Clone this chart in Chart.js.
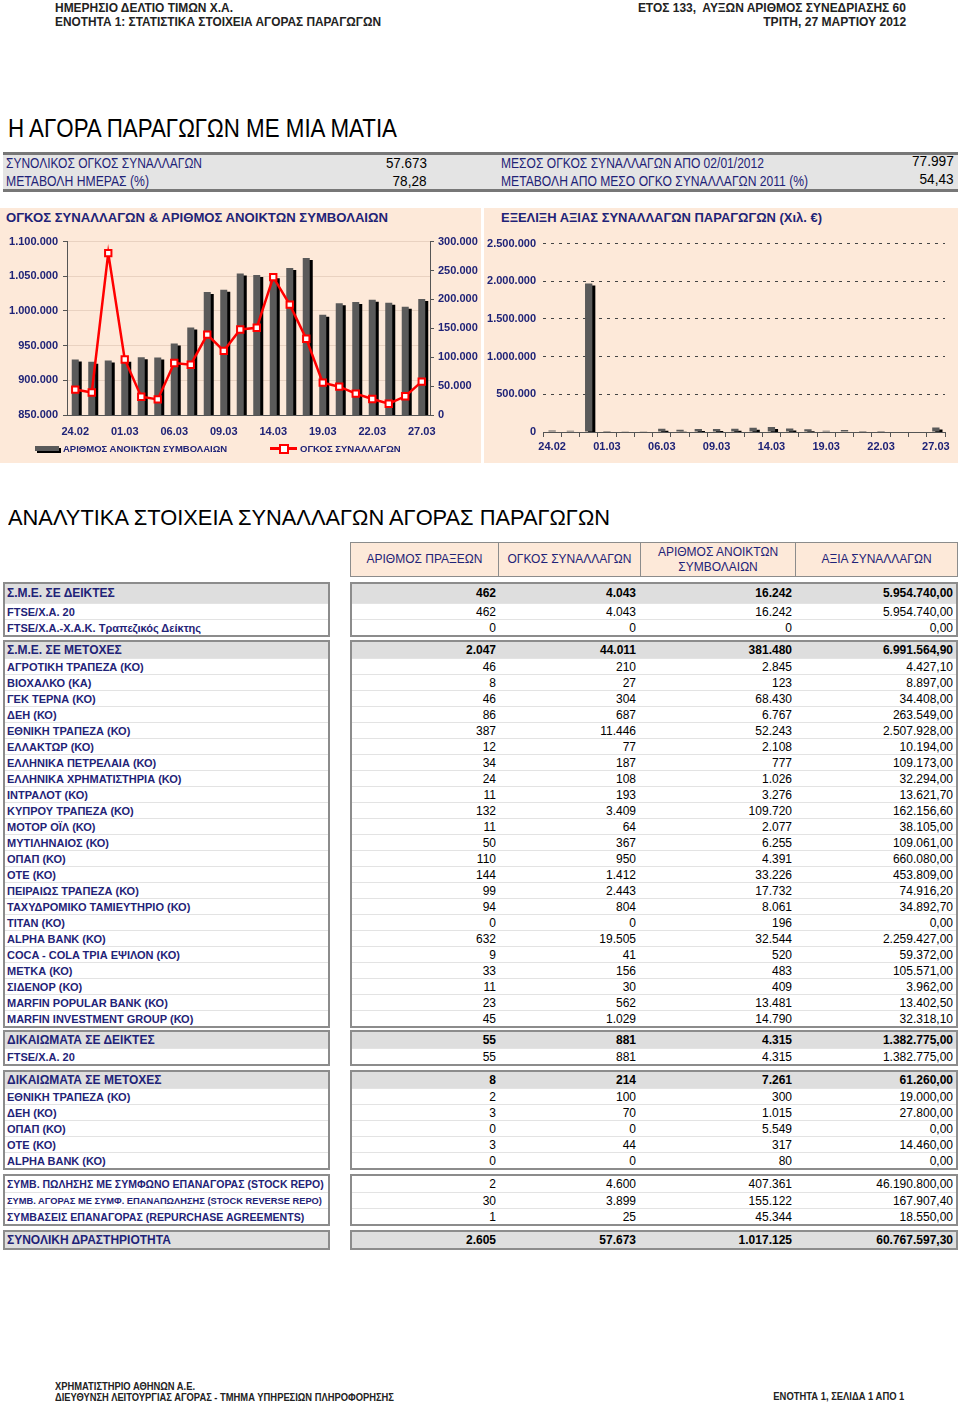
<!DOCTYPE html>
<html>
<head>
<meta charset="utf-8">
<script src="https://cdn.jsdelivr.net/npm/chart.js"></script>
<style>
  body { margin: 0; background: #fff; font-family: "Liberation Sans", Arial, sans-serif; }
  #page { position: relative; width: 960px; height: 1405px; overflow: hidden; }
  .abs { position: absolute; white-space: nowrap; }
  .fit { transform-origin: left center; }
  .fit.r { transform-origin: right center; }
  .navy { color: #1f2377; }
  .panel { position: absolute; background: #fde9d9; }
  .box { position: absolute; border: 2px solid #8c8c8c; background: #fff; }
  .row { position: relative; height: 16px; line-height: 16px; border-top: 1px solid #e3e3e3; box-sizing: border-box; }
  .row.first { border-top: none; }
  .row.head { background: #dedede; }
  .lbl { padding-left: 2px; font-weight: bold; font-size: 11px; color: #1f2377; white-space: nowrap; overflow: hidden; }
  .lbl.head { font-size: 12px; }
  .num { position: absolute; top: 0; text-align: right; font-size: 12px; color: #000; }
  .head .num { font-weight: bold; }
  .colhead { position: absolute; top: 542px; height: 35px; display: flex; align-items: center; justify-content: center; text-align: center; font-size: 12px; color: #1f2377; background: #fde9d9; border: 1px solid #8c8c8c; box-sizing: border-box; line-height: 15px; }
</style>
</head>
<body>
<div id="page">
  <div class="abs fit" data-w="178" style="left:55px;top:0px;font-size:13px;font-weight:bold;color:#222;">ΗΜΕΡΗΣΙΟ ΔΕΛΤΙΟ ΤΙΜΩΝ Χ.Α.</div>
  <div class="abs fit" data-w="326" style="left:55px;top:14px;font-size:13px;font-weight:bold;color:#222;">ΕΝΟΤΗΤΑ 1: ΣΤΑΤΙΣΤΙΚΑ ΣΤΟΙΧΕΙΑ ΑΓΟΡΑΣ ΠΑΡΑΓΩΓΩΝ</div>
  <div class="abs fit r" data-w="268" style="right:54px;top:0px;font-size:13px;font-weight:bold;color:#222;">ΕΤΟΣ 133,&nbsp; ΑΥΞΩΝ ΑΡΙΘΜΟΣ ΣΥΝΕΔΡΙΑΣΗΣ 60</div>
  <div class="abs fit r" data-w="143" style="right:54px;top:14px;font-size:13px;font-weight:bold;color:#222;">ΤΡΙΤΗ, 27 ΜΑΡΤΙΟΥ 2012</div>

  <div class="abs fit" data-w="389" style="left:8px;top:113px;font-size:26px;color:#000;">Η ΑΓΟΡΑ ΠΑΡΑΓΩΓΩΝ ΜΕ ΜΙΑ ΜΑΤΙΑ</div>

  <div class="abs" style="left:3px;top:152px;width:955px;height:34px;background:#e4e4e4;border-top:3px solid #777;border-bottom:3px solid #777;"></div>
  <div class="abs fit navy" data-w="196" style="left:6px;top:155px;font-size:14px;">ΣΥΝΟΛΙΚΟΣ ΟΓΚΟΣ ΣΥΝΑΛΛΑΓΩΝ</div>
  <div class="abs fit navy" data-w="143" style="left:6px;top:173px;font-size:14px;">ΜΕΤΑΒΟΛΗ ΗΜΕΡΑΣ (%)</div>
  <div class="abs fit r" data-w="41" style="right:533px;top:154px;font-size:15px;">57.673</div>
  <div class="abs fit r" data-w="34" style="right:533px;top:172px;font-size:15px;">78,28</div>
  <div class="abs fit navy" data-w="263" style="left:501px;top:155px;font-size:14px;">ΜΕΣΟΣ ΟΓΚΟΣ ΣΥΝΑΛΛΑΓΩΝ ΑΠΟ 02/01/2012</div>
  <div class="abs fit navy" data-w="307" style="left:501px;top:173px;font-size:14px;">ΜΕΤΑΒΟΛΗ ΑΠΟ ΜΕΣΟ ΟΓΚΟ ΣΥΝΑΛΛΑΓΩΝ 2011 (%)</div>
  <div class="abs fit r" data-w="42" style="right:6px;top:152px;font-size:15px;">77.997</div>
  <div class="abs fit r" data-w="34" style="right:6px;top:170px;font-size:15px;">54,43</div>

  <div class="panel" style="left:0;top:208px;width:481px;height:255px;"></div>
  <div class="panel" style="left:484px;top:208px;width:474px;height:255px;"></div>
  <div class="abs fit navy" data-w="382" style="left:6px;top:210px;font-size:13px;font-weight:bold;">ΟΓΚΟΣ ΣΥΝΑΛΛΑΓΩΝ &amp; ΑΡΙΘΜΟΣ ΑΝΟΙΚΤΩΝ ΣΥΜΒΟΛΑΙΩΝ</div>
  <div class="abs fit navy" data-w="321" style="left:501px;top:210px;font-size:13px;font-weight:bold;">ΕΞΕΛΙΞΗ ΑΞΙΑΣ ΣΥΝΑΛΛΑΓΩΝ ΠΑΡΑΓΩΓΩΝ (Χιλ. €)</div>

  <div class="abs" style="left:0;top:230px;width:480px;height:215px;"><canvas id="volChart"></canvas></div>
  <div class="abs" style="left:483px;top:230px;width:475px;height:225px;"><canvas id="valChart"></canvas></div>

  <div class="abs" style="left:35px;top:446px;width:24px;height:5px;background:#5a5a5a;box-shadow:2px 2px 0 #000;"></div>
  <div class="abs navy" style="left:63px;top:443px;font-size:9.5px;font-weight:bold;">ΑΡΙΘΜΟΣ ΑΝΟΙΚΤΩΝ ΣΥΜΒΟΛΑΙΩΝ</div>
  <div class="abs" style="left:270px;top:447px;width:27px;height:3px;background:#f00;"></div>
  <div class="abs" style="left:279px;top:444px;width:6px;height:6px;background:#fff;border:2px solid #f00;"></div>
  <div class="abs navy" style="left:300px;top:443px;font-size:9.5px;font-weight:bold;">ΟΓΚΟΣ ΣΥΝΑΛΛΑΓΩΝ</div>

  <div class="abs fit" data-w="602" style="left:8px;top:505px;font-size:22px;color:#000;">ΑΝΑΛΥΤΙΚΑ ΣΤΟΙΧΕΙΑ ΣΥΝΑΛΛΑΓΩΝ ΑΓΟΡΑΣ ΠΑΡΑΓΩΓΩΝ</div>

  <div class="colhead" style="left:350px;width:149px;">ΑΡΙΘΜΟΣ ΠΡΑΞΕΩΝ</div>
  <div class="colhead" style="left:498px;width:143px;">ΟΓΚΟΣ ΣΥΝΑΛΛΑΓΩΝ</div>
  <div class="colhead" style="left:640px;width:156px;">ΑΡΙΘΜΟΣ ΑΝΟΙΚΤΩΝ<br>ΣΥΜΒΟΛΑΙΩΝ</div>
  <div class="colhead" style="left:795px;width:163px;">ΑΞΙΑ ΣΥΝΑΛΛΑΓΩΝ</div>

  <div id="table"></div>

  <div class="abs fit" data-w="140" style="left:55px;top:1381px;font-size:10px;font-weight:bold;color:#222;">ΧΡΗΜΑΤΙΣΤΗΡΙΟ ΑΘΗΝΩΝ Α.Ε.</div>
  <div class="abs fit" data-w="339" style="left:55px;top:1392px;font-size:10px;font-weight:bold;color:#222;">ΔΙΕΥΘΥΝΣΗ ΛΕΙΤΟΥΡΓΙΑΣ ΑΓΟΡΑΣ - ΤΜΗΜΑ ΥΠΗΡΕΣΙΩΝ ΠΛΗΡΟΦΟΡΗΣΗΣ</div>
  <div class="abs fit r" data-w="131" style="right:56px;top:1391px;font-size:10px;font-weight:bold;color:#222;">ΕΝΟΤΗΤΑ 1, ΣΕΛΙΔΑ 1 ΑΠΟ 1</div>
</div>

<script>
const dates = ['24.02', '28.02', '29.02', '01.03', '02.03', '05.03', '06.03', '07.03', '08.03', '09.03', '12.03',
  '13.03', '14.03', '15.03', '16.03', '19.03', '20.03', '21.03', '22.03', '23.03', '26.03', '27.03'];

// ΑΡΙΘΜΟΣ ΑΝΟΙΚΤΩΝ ΣΥΜΒΟΛΑΙΩΝ (left axis)
const openInterest = [930000, 926600, 928500, 929500, 933300, 932900, 953000, 976000, 1027200, 1030500, 1054000,
  1052000, 1050000, 1062000, 1076500, 994600, 1011000, 1012800, 1016000, 1012000, 1006000, 1017125];
// ΟΓΚΟΣ ΣΥΝΑΛΛΑΓΩΝ (right axis)
const volume = [44000, 39000, 280000, 96000, 31600, 27000, 90000, 87000, 139000, 111000, 148000,
  151000, 238500, 191000, 132000, 56000, 49000, 37000, 27600, 19500, 32350, 57673];
// ΑΞΙΑ ΣΥΝΑΛΛΑΓΩΝ (Χιλ. €)
const tradeValue = [20000, 17000, 1972000, 13000, 9000, 9000, 44000, 30000, 39000, 39000, 44000,
  57000, 65000, 48000, 35000, 17000, 26000, 13000, 13000, 8000, 7000, 60768];

const oiTicks = [850000, 900000, 950000, 1000000, 1050000, 1100000];
const volTicks = [0, 50000, 100000, 150000, 200000, 250000, 300000];
const valTicks = [0, 500000, 1000000, 1500000, 2000000, 2500000];

// squeeze the condensed header texts to the widths they have in print
document.querySelectorAll('[data-w]').forEach((el) => {
  const w = el.getBoundingClientRect().width;
  el.style.transform = `scaleX(${el.dataset.w / w})`;
});

const navy = '#1f2377';
const fmt = (v) => v.toLocaleString('de-DE');
const tickFont = { size: 11, weight: 'bold' };

Chart.defaults.font.family = '"Liberation Sans", Arial, sans-serif';
Chart.defaults.animation = false;

const barShadow = {
  id: 'barShadow',
  beforeDatasetDraw(chart, args) {
    if (args.meta.type !== 'bar') return;
    const ctx = chart.ctx;
    ctx.save();
    ctx.shadowColor = '#000';
    ctx.shadowOffsetX = 3;
    ctx.shadowOffsetY = 2;
    ctx.shadowBlur = 0;
  },
  afterDatasetDraw(chart, args) {
    if (args.meta.type !== 'bar') return;
    chart.ctx.restore();
  }
};

const fixedTicks = (list) => (scale) => { scale.ticks = list.map((v) => ({ value: v })); };

new Chart(document.getElementById('volChart'), {
  type: 'bar',
  plugins: [barShadow],
  data: {
    labels: dates,
    datasets: [{
      type: 'line',
      label: 'ΟΓΚΟΣ ΣΥΝΑΛΛΑΓΩΝ',
      data: volume,
      yAxisID: 'y1',
      order: 0,
      borderColor: '#ff0000',
      borderWidth: 2.5,
      tension: 0,
      pointStyle: 'rect',
      pointRadius: 4.5,
      pointBackgroundColor: '#fff',
      pointBorderColor: '#ff0000',
      pointBorderWidth: 2
    }, {
      label: 'ΑΡΙΘΜΟΣ ΑΝΟΙΚΤΩΝ ΣΥΜΒΟΛΑΙΩΝ',
      data: openInterest,
      yAxisID: 'y',
      order: 1,
      backgroundColor: '#5a5a5a',
      barPercentage: 0.85,
      categoryPercentage: 0.5
    }]
  },
  options: {
    responsive: true,
    maintainAspectRatio: false,
    layout: { padding: { top: 11, left: 0, right: 0, bottom: 0 } },
    plugins: { legend: { display: false }, tooltip: { enabled: false } },
    scales: {
      x: {
        grid: { display: true, drawOnChartArea: false, drawTicks: false },
        border: { color: '#555' },
        ticks: {
          autoSkip: false, maxRotation: 0, padding: 10, color: navy, font: tickFont,
          callback: (v, i) => (i % 3 === 0 ? dates[i] : '')
        },
        afterFit: (s) => { s.height = 30; }
      },
      y: {
        position: 'left',
        min: oiTicks[0], max: oiTicks[oiTicks.length - 1],
        afterBuildTicks: fixedTicks(oiTicks),
        grid: { color: 'rgba(120,80,60,0.15)', tickLength: 4, tickColor: '#555' },
        border: { color: '#555' },
        ticks: { color: navy, font: tickFont, padding: 5, callback: fmt },
        afterFit: (s) => { s.width = 67; }
      },
      y1: {
        position: 'right',
        min: volTicks[0], max: volTicks[volTicks.length - 1],
        afterBuildTicks: fixedTicks(volTicks),
        grid: { drawOnChartArea: false, tickLength: 4, tickColor: '#555' },
        border: { color: '#555' },
        ticks: { color: navy, font: tickFont, padding: 4, callback: fmt },
        afterFit: (s) => { s.width = 50; }
      }
    }
  }
});

new Chart(document.getElementById('valChart'), {
  type: 'bar',
  plugins: [barShadow],
  data: {
    labels: dates,
    datasets: [{
      label: 'ΑΞΙΑ ΣΥΝΑΛΛΑΓΩΝ',
      data: tradeValue,
      backgroundColor: '#5a5a5a',
      barPercentage: 0.8,
      categoryPercentage: 0.5
    }]
  },
  options: {
    responsive: true,
    maintainAspectRatio: false,
    layout: { padding: { top: 9, left: 0, right: 13, bottom: 0 } },
    plugins: { legend: { display: false }, tooltip: { enabled: false } },
    scales: {
      x: {
        grid: { offset: true, drawOnChartArea: false, tickLength: 5, color: '#555' },
        border: { color: '#555' },
        ticks: {
          autoSkip: false, maxRotation: 0, padding: 3, color: navy, font: tickFont,
          callback: (v, i) => (i % 3 === 0 ? dates[i] : '')
        },
        afterFit: (s) => { s.height = 23; }
      },
      y: {
        min: valTicks[0], max: valTicks[valTicks.length - 1],
        afterBuildTicks: fixedTicks(valTicks),
        grid: { color: '#444', drawTicks: false },
        border: { display: false, dash: [3, 5] },
        ticks: { color: navy, font: tickFont, padding: 7, callback: fmt },
        afterFit: (s) => { s.width = 60; }
      }
    }
  }
});

// table of the detailed figures
const smeIndex = [
  ['Σ.Μ.Ε. ΣΕ ΔΕΙΚΤΕΣ', '462', '4.043', '16.242', '5.954.740,00'],
  ['FTSE/Χ.Α. 20', '462', '4.043', '16.242', '5.954.740,00'],
  ['FTSE/Χ.Α.-Χ.Α.Κ. Τραπεζικός Δείκτης', '0', '0', '0', '0,00']
];
const smeStock = [
  ['Σ.Μ.Ε. ΣΕ ΜΕΤΟΧΕΣ', '2.047', '44.011', '381.480', '6.991.564,90'],
  ['ΑΓΡΟΤΙΚΗ ΤΡΑΠΕΖΑ (ΚΟ)', '46', '210', '2.845', '4.427,10'],
  ['ΒΙΟΧΑΛΚΟ (ΚΑ)', '8', '27', '123', '8.897,00'],
  ['ΓΕΚ  ΤΕΡΝΑ (ΚΟ)', '46', '304', '68.430', '34.408,00'],
  ['ΔΕΗ (ΚΟ)', '86', '687', '6.767', '263.549,00'],
  ['ΕΘΝΙΚΗ ΤΡΑΠΕΖΑ (ΚΟ)', '387', '11.446', '52.243', '2.507.928,00'],
  ['ΕΛΛΑΚΤΩΡ (ΚΟ)', '12', '77', '2.108', '10.194,00'],
  ['ΕΛΛΗΝΙΚΑ ΠΕΤΡΕΛΑΙΑ (ΚΟ)', '34', '187', '777', '109.173,00'],
  ['ΕΛΛΗΝΙΚΑ ΧΡΗΜΑΤΙΣΤΗΡΙΑ (ΚΟ)', '24', '108', '1.026', '32.294,00'],
  ['ΙΝΤΡΑΛΟΤ (ΚΟ)', '11', '193', '3.276', '13.621,70'],
  ['ΚΥΠΡΟΥ ΤΡΑΠΕΖΑ (ΚΟ)', '132', '3.409', '109.720', '162.156,60'],
  ['ΜΟΤΟΡ ΟΪΛ (ΚΟ)', '11', '64', '2.077', '38.105,00'],
  ['ΜΥΤΙΛΗΝΑΙΟΣ (ΚΟ)', '50', '367', '6.255', '109.061,00'],
  ['ΟΠΑΠ (ΚΟ)', '110', '950', '4.391', '660.080,00'],
  ['ΟΤΕ  (ΚΟ)', '144', '1.412', '33.226', '453.809,00'],
  ['ΠΕΙΡΑΙΩΣ ΤΡΑΠΕΖΑ (ΚΟ)', '99', '2.443', '17.732', '74.916,20'],
  ['ΤΑΧΥΔΡΟΜΙΚΟ ΤΑΜΙΕΥΤΗΡΙΟ (ΚΟ)', '94', '804', '8.061', '34.892,70'],
  ['ΤΙΤΑΝ (ΚΟ)', '0', '0', '196', '0,00'],
  ['ALPHA BANK (ΚΟ)', '632', '19.505', '32.544', '2.259.427,00'],
  ['COCA - COLA ΤΡΙΑ ΕΨΙΛΟΝ (ΚΟ)', '9', '41', '520', '59.372,00'],
  ['ΜΕΤΚΑ (ΚΟ)', '33', '156', '483', '105.571,00'],
  ['ΣΙΔΕΝΟΡ (ΚΟ)', '11', '30', '409', '3.962,00'],
  ['MARFIN POPULAR BANK (ΚΟ)', '23', '562', '13.481', '13.402,50'],
  ['MARFIN INVESTMENT GROUP (ΚΟ)', '45', '1.029', '14.790', '32.318,10']
];
const optIndex = [
  ['ΔΙΚΑΙΩΜΑΤΑ ΣΕ ΔΕΙΚΤΕΣ', '55', '881', '4.315', '1.382.775,00'],
  ['FTSE/Χ.Α. 20', '55', '881', '4.315', '1.382.775,00']
];
const optStock = [
  ['ΔΙΚΑΙΩΜΑΤΑ ΣΕ ΜΕΤΟΧΕΣ', '8', '214', '7.261', '61.260,00'],
  ['ΕΘΝΙΚΗ ΤΡΑΠΕΖΑ (ΚΟ)', '2', '100', '300', '19.000,00'],
  ['ΔΕΗ (ΚΟ)', '3', '70', '1.015', '27.800,00'],
  ['ΟΠΑΠ (ΚΟ)', '0', '0', '5.549', '0,00'],
  ['ΟΤΕ  (ΚΟ)', '3', '44', '317', '14.460,00'],
  ['ALPHA BANK (ΚΟ)', '0', '0', '80', '0,00']
];
const repos = [
  ['ΣΥΜΒ. ΠΩΛΗΣΗΣ ΜΕ ΣΥΜΦΩΝΟ ΕΠΑΝΑΓΟΡΑΣ (STOCK REPO)', '2', '4.600', '407.361', '46.190.800,00'],
  ['ΣΥΜΒ. ΑΓΟΡΑΣ ΜΕ ΣΥΜΦ. ΕΠΑΝΑΠΩΛΗΣΗΣ (STOCK REVERSE REPO)', '30', '3.899', '155.122', '167.907,40'],
  ['ΣΥΜΒΑΣΕΙΣ ΕΠΑΝΑΓΟΡΑΣ (REPURCHASE AGREEMENTS)', '1', '25', '45.344', '18.550,00']
];
const total = [
  ['ΣΥΝΟΛΙΚΗ ΔΡΑΣΤΗΡΙΟΤΗΤΑ', '2.605', '57.673', '1.017.125', '60.767.597,30']
];

const groups = [
  { rows: smeIndex, top: 584, head: 19 },
  { rows: smeStock, top: 642, head: 16 },
  { rows: optIndex, top: 1032, head: 16 },
  { rows: optStock, top: 1072, head: 16 },
  { rows: repos, top: 1176, head: 0, sizes: [10.5, 9.3, 10.6] },
  { rows: total, top: 1232, head: 16 }
];
const numRight = [144, 284, 440, 601];

const table = document.getElementById('table');
groups.forEach((g) => {
  const left = document.createElement('div');
  const right = document.createElement('div');
  left.className = 'box';
  right.className = 'box';
  left.style.cssText = `left:3px;top:${g.top - 2}px;width:323px;`;
  right.style.cssText = `left:350px;top:${g.top - 2}px;width:604px;`;
  g.rows.forEach((r, i) => {
    const isHead = i === 0 && g.head > 0;
    const h = isHead ? g.head : 16;
    const cls = 'row' + (i === 0 ? ' first' : '') + (isHead ? ' head' : '');
    const lrow = document.createElement('div');
    lrow.className = cls;
    lrow.style.height = h + 'px';
    lrow.style.lineHeight = h + 'px';
    const lbl = document.createElement('div');
    lbl.className = 'lbl' + (isHead ? ' head' : '');
    if (g.sizes) lbl.style.fontSize = g.sizes[i] + 'px';
    lbl.textContent = r[0];
    lrow.appendChild(lbl);
    left.appendChild(lrow);

    const rrow = document.createElement('div');
    rrow.className = cls;
    rrow.style.height = h + 'px';
    rrow.style.lineHeight = h + 'px';
    r.slice(1).forEach((t, j) => {
      const n = document.createElement('div');
      n.className = 'num';
      n.style.right = (604 - numRight[j]) + 'px';
      n.textContent = t;
      rrow.appendChild(n);
    });
    right.appendChild(rrow);
  });
  table.appendChild(left);
  table.appendChild(right);
});
</script>
</body>
</html>
